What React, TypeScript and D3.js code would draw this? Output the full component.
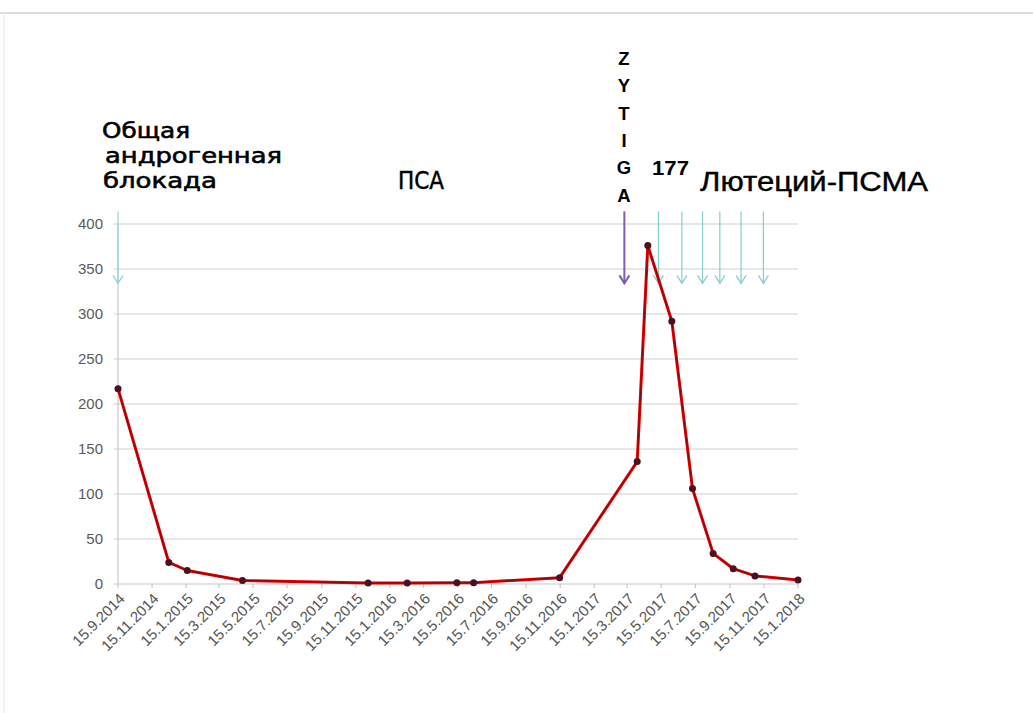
import React from 'react';
import * as d3 from 'd3';

const sampleDates = ['2014-09-15', '2014-12-15', '2015-01-17', '2015-04-26', '2015-12-07', '2016-02-15', '2016-05-14', '2016-06-13', '2016-11-14', '2017-04-02', '2017-04-21', '2017-06-03', '2017-07-10', '2017-08-16', '2017-09-21', '2017-10-30', '2018-01-15'];
const psaValues = [217, 24, 15, 4, 1, 1, 1.5, 1.5, 7, 136, 376, 292, 106, 34, 17, 9, 4.5];
const xTickLabels = ['15.9.2014', '15.11.2014', '15.1.2015', '15.3.2015', '15.5.2015', '15.7.2015', '15.9.2015', '15.11.2015', '15.1.2016', '15.3.2016', '15.5.2016', '15.7.2016', '15.9.2016', '15.11.2016', '15.1.2017', '15.3.2017', '15.5.2017', '15.7.2017', '15.9.2017', '15.11.2017', '15.1.2018'];
const yTickValues = [0, 50, 100, 150, 200, 250, 300, 350, 400];
const adtArrowDates = ['2014-09-15'];
const zytigaArrowDates = ['2017-03-10'];
const lutetiumArrowDates = ['2017-05-10', '2017-06-21', '2017-07-28', '2017-08-28', '2017-10-05', '2017-11-14'];
const arrowFrom = 414;
const arrowTo = 334;
const zytigaLetters = ['Z', 'Y', 'T', 'I', 'G', 'A'];

const parseIso = d3.timeParse('%Y-%m-%d');
const parseLabel = d3.timeParse('%d.%m.%Y');

export default function App() {
  const x = d3.scaleTime()
    .domain([parseIso('2014-09-15') as Date, parseIso('2018-01-15') as Date])
    .range([118, 798]);
  const y = d3.scaleLinear().domain([0, 400]).range([584, 224]);

  const points = sampleDates.map((d, i) => ({ date: parseIso(d) as Date, v: psaValues[i] }));
  const line = d3.line<{ date: Date; v: number }>().x(d => x(d.date)).y(d => y(d.v));
  const path = line(points) || '';

  const arrow = (d: string, color: string, w: number, key: string) => {
    const ax = x(parseIso(d) as Date);
    const y1 = y(arrowFrom);
    const y2 = y(arrowTo);
    return (
      <g key={key} stroke={color} strokeWidth={w} fill="none">
        <line x1={ax} x2={ax} y1={y1} y2={y2} />
        <polyline points={`${ax - 5},${y2 - 8} ${ax},${y2} ${ax + 5},${y2 - 8}`} strokeLinejoin="miter" />
      </g>
    );
  };

  const sans = 'Liberation Sans, Arial, sans-serif';
  const wide = 'DejaVu Sans, Verdana, sans-serif';

  return (
    <div style={{ position: 'absolute', left: 0, top: 0 }}>
      <svg width={1033} height={713} style={{ display: 'block', background: '#fff' }}>
        <line x1={0} x2={1033} y1={13} y2={13} stroke="#dcdcdc" strokeWidth={2} />
        <line x1={4} x2={4} y1={13} y2={713} stroke="#ececec" strokeWidth={1.5} />

        {yTickValues.map(t => (
          <g key={t}>
            <line x1={114} x2={798} y1={y(t)} y2={y(t)} stroke={t === 0 ? '#c8c8c8' : '#cfcfcf'} strokeWidth={1.2} />
            <text x={103} y={y(t)} dy="0.35em" textAnchor="end" fontFamily={sans} fontSize={15} fill="#5a5a5a">{t}</text>
          </g>
        ))}
        <line x1={118} x2={118} y1={224} y2={584} stroke="#c8c8c8" strokeWidth={1.2} />

        {xTickLabels.map(l => {
          const tx = x(parseLabel(l) as Date);
          return (
            <g key={l}>
              <line x1={tx} x2={tx} y1={584} y2={588} stroke="#c8c8c8" strokeWidth={1.2} />
              <text transform={`translate(${tx + 4},${596}) rotate(-45)`} textAnchor="end" dy="0.35em" fontFamily={sans} fontSize={15} fill="#555">{l}</text>
            </g>
          );
        })}

        {adtArrowDates.map((d, i) => arrow(d, '#8fd3d3', 1.2, 'adt' + i))}
        {lutetiumArrowDates.map((d, i) => arrow(d, '#86cccc', 1.2, 'lu' + i))}
        {zytigaArrowDates.map((d, i) => arrow(d, '#7d5fae', 2, 'zy' + i))}

        <path d={path} fill="none" stroke="#e00000" strokeWidth={3} strokeLinejoin="round" />
        <path d={path} fill="none" stroke="#6a0a10" strokeWidth={0.8} strokeLinejoin="round" />
        {points.map((p, i) => (
          <circle key={i} cx={x(p.date)} cy={y(p.v)} r={3.5} fill="#4a1020" />
        ))}

        <g fontFamily={wide} fontSize={21} fill="#000" stroke="#000" strokeWidth={0.6}>
          <text x={102} y={138} textLength={88} lengthAdjust="spacingAndGlyphs">Общая</text>
          <text x={105} y={163} textLength={177} lengthAdjust="spacingAndGlyphs">андрогенная</text>
          <text x={103} y={188} textLength={114} lengthAdjust="spacingAndGlyphs">блокада</text>
        </g>
        <text x={398} y={189} fontFamily={wide} fontSize={24} stroke="#000" strokeWidth={0.5} textLength={46} lengthAdjust="spacingAndGlyphs">ПСА</text>
        <g fontFamily={sans} fontWeight="bold" fontSize={18.5} textAnchor="middle">
          {zytigaLetters.map((c, i) => (
            <text key={i} x={624} y={65 + i * 27.3}>{c}</text>
          ))}
        </g>
        <text x={652} y={175} fontFamily={sans} fontWeight="bold" fontSize={20} textLength={37} lengthAdjust="spacingAndGlyphs">177</text>
        <text x={700} y={191} fontFamily={sans} fontSize={27} stroke="#000" strokeWidth={0.4} textLength={228} lengthAdjust="spacingAndGlyphs">Лютеций-ПСМА</text>
      </svg>
    </div>
  );
}
